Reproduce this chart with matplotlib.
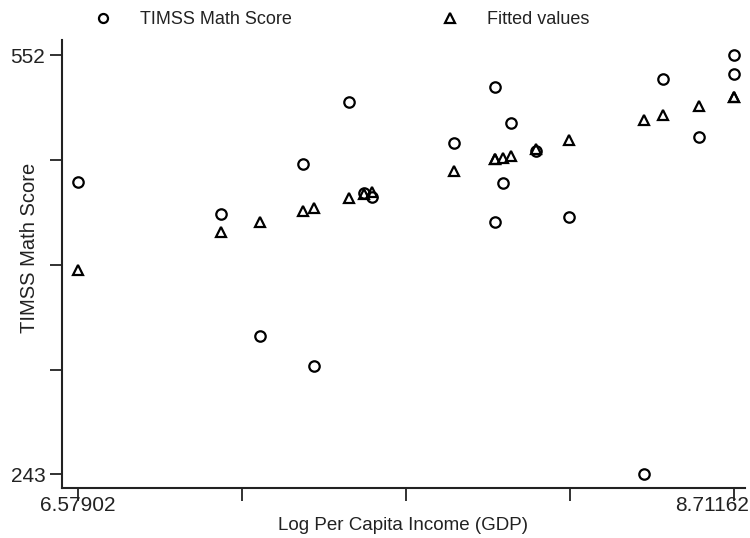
import matplotlib
matplotlib.use("Agg")
import matplotlib.pyplot as plt
import matplotlib.transforms as mtransforms
from matplotlib.lines import Line2D

# Data
log_gdp = [6.579, 7.044, 7.171, 7.310, 7.345, 7.461, 7.509, 7.534, 7.801,
           7.934, 7.934, 7.961, 7.988, 8.067, 8.176, 8.420, 8.481, 8.598,
           8.7116, 8.7116]
timss = [458.6, 434.8, 345.1, 471.7, 323.0, 517.4, 450.5, 447.7, 487.6,
         528.5, 429.3, 457.6, 502.4, 481.7, 432.5, 243.0, 534.4, 491.6,
         552.0, 538.6]
fitted = [393.8, 421.5, 429.3, 437.4, 439.6, 446.6, 449.7, 451.4, 466.9,
          475.4, 475.4, 476.5, 478.0, 483.0, 489.6, 504.4, 507.8, 514.9,
          521.6, 521.6]

x_ticks = [6.57902, 7.1121698, 7.64532, 8.1784698, 8.71162]
x_ticklabels = ["6.57902", "", "", "", "8.71162"]
y_ticks = [243, 320.25, 397.5, 474.75, 552]
y_ticklabels = ["243", "", "", "", "552"]

series_names = ["TIMSS Math Score", "Fitted values"]
x_title = "Log Per Capita Income (GDP)"
y_title = "TIMSS Math Score"

plt.rcParams['font.family'] = ['Liberation Sans', 'DejaVu Sans']

fig = plt.figure(figsize=(7.5, 5.38), dpi=100)
ax = fig.add_axes([62/750, 50/538, (745-62)/750, (488-40)/538])

mk = dict(markersize=7.5, markeredgewidth=1.6, markerfacecolor='none',
          markeredgecolor='black', linestyle='none')
ax.plot(log_gdp, timss, marker='o', **mk)
ax.plot(log_gdp, fitted, marker='^', **mk)

ax.set_xlim(6.5270, 8.7474)
ax.set_ylim(233.0, 563.4)
ax.set_xticks(x_ticks)
ax.set_xticklabels(x_ticklabels)
ax.set_yticks(y_ticks)
ax.set_yticklabels(y_ticklabels)

for s in ['top', 'right']:
    ax.spines[s].set_visible(False)
for s in ['left', 'bottom']:
    ax.spines[s].set_linewidth(1.5)
    ax.spines[s].set_color('#222222')
ax.tick_params(axis='both', length=9, width=1.3, color='#222222',
               labelsize=15, labelcolor='#222222')
ax.tick_params(axis='y', pad=3)
ax.tick_params(axis='x', pad=-3)

# keep the last x label inside the figure, as in the reference
last = ax.get_xticklabels()[-1]
last.set_horizontalalignment('right')
last.set_transform(last.get_transform() +
                   mtransforms.ScaledTranslation(15/100, 0, fig.dpi_scale_trans))

ax.set_xlabel(x_title, fontsize=13.5, labelpad=1, color='#222222')
ax.set_ylabel(y_title, fontsize=14.5, color='#222222')
ax.yaxis.set_label_coords(-0.034, 0.537)

handles = [Line2D([], [], marker='o', markersize=6.5, markeredgewidth=1.6,
                  markerfacecolor='none', markeredgecolor='black', linestyle='none'),
           Line2D([], [], marker='^', markersize=6.5, markeredgewidth=1.6,
                  markerfacecolor='none', markeredgecolor='black', linestyle='none')]
fig.legend(handles, series_names, loc='center left',
           bbox_to_anchor=(0.103, 0.963), ncol=2, frameon=False,
           fontsize=13, handlelength=1.0, handletextpad=1.55,
           columnspacing=8.3, labelcolor='#222222')

fig.savefig("out.png", dpi=100)
